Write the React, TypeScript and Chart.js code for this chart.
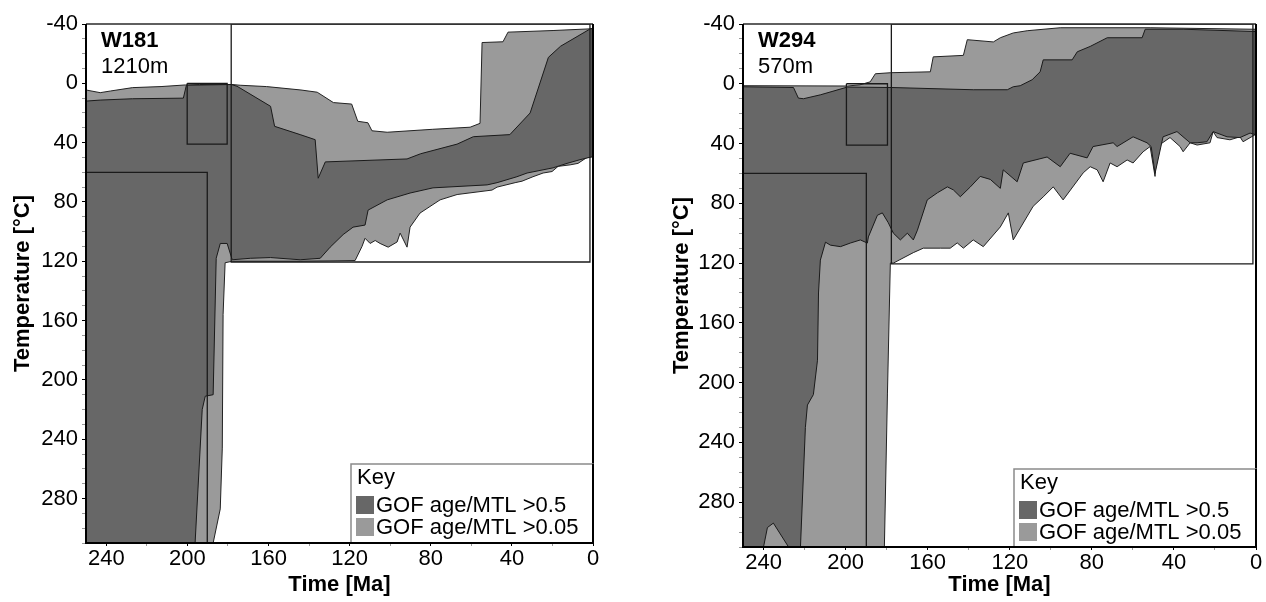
import React, { useEffect, useRef } from 'react';
import { Chart, registerables } from 'chart.js';

Chart.register(...registerables);

// ---------- W181 (left) : [time Ma, temperature °C] ----------
const w181LightUpper = [
  [250, 4.5], [243, 6.3], [238, 5.2], [227, 2.9], [213, 2.2], [201, 1.1], [194, 0.8], [178, 0.8],
  [174, 1.3], [161, 2.2], [144, 4.5], [136, 6], [128, 13], [119, 14], [116, 25.6], [111, 26.6],
  [109, 32], [101.5, 33], [79, 31], [60.6, 29.6], [55.7, 27], [54.7, -27.5], [44.4, -28],
  [41.9, -34.5], [19.7, -35.6], [0.3, -36.8],
];
const w181LightLower = [
  [0.3, 49.5], [3, 50], [7.4, 54], [11.3, 55], [17.2, 56], [20.2, 59.5], [24.6, 60.5], [29.6, 63],
  [35, 66], [38.4, 67], [47.3, 70], [49.8, 72], [67, 75], [75.4, 78.6], [85.3, 87.5], [90.2, 97],
  [91.7, 110.5], [95.1, 101], [96.6, 107], [101, 110.5], [105, 108], [107.4, 106], [109.9, 108],
  [112.4, 104.5], [113.9, 110], [117.3, 119.5], [144.4, 120], [177.9, 120], [181.4, 121],
  [182.4, 156], [182.8, 246], [183.8, 287], [187.3, 310], [250, 310],
];
const w181DarkUpper = [
  [250, 12], [243, 11.3], [227, 10.4], [202, 10], [200.5, 1.3], [178.4, 0.8], [175.5, 2],
  [159, 15.5], [157, 29], [144.4, 34.6], [137, 38], [135.5, 64], [132, 53], [91.7, 51],
  [85, 47.5], [67, 41], [59, 36], [41, 34.6], [31, 20], [22, -17.5], [16, -25], [1.5, -36.6],
  [0.3, -37],
];
const w181DarkLower = [
  [0.3, 49.5], [6.4, 51.5], [12.8, 54], [19.7, 57], [32.5, 60.5], [37.5, 63], [47.3, 67],
  [52.2, 68.5], [78.9, 70.5], [90.2, 74], [101.5, 78.6], [110.9, 85.5], [112.4, 95.6],
  [118.3, 97], [123.2, 102], [129.6, 110.5], [134.5, 118], [144.4, 119], [159, 117.5],
  [169, 118], [177.9, 119], [180.4, 108], [183.8, 108], [185.8, 118], [187.3, 210],
  [191.2, 211], [192.7, 220], [196.2, 310], [250, 310],
];
const w181Boxes = [
  [250, 190.2, 60, 310],
  [200.1, 180.4, 0, 41],
  [178.4, 1.5, -40, 120.5],
];

// ---------- W294 (right) ----------
const w294LightUpper = [
  [250, 1.3], [199, 1.5], [193, 0.7], [188, -1.3], [185.5, -6.7], [178, -7.4], [158.7, -8],
  [157.3, -18], [142.6, -19], [140.7, -29.5], [128, -28], [124.6, -30.8], [118.3, -34],
  [111.5, -35.5], [95.4, -37.5], [51.6, -37.5], [1.5, -36.5], [0.3, -36.5],
];
const w294LightLower = [
  [0.3, 34], [6.3, 38.8], [7.8, 35.5], [12.7, 37.5], [19, 36], [20.9, 32], [22.4, 39.5],
  [28.7, 41], [32.1, 39.5], [35.5, 45.5], [37, 42], [41.9, 36], [48.2, 42], [49.2, 62],
  [51.6, 42], [55, 45.5], [59.9, 53], [62.8, 51], [67.7, 55.5], [71.1, 53], [74.5, 65.6],
  [77.4, 57.6], [80.8, 55.5], [84.2, 59.6], [94, 77.7], [98.8, 69], [103.7, 75.7],
  [108.6, 82], [118.3, 104.5], [120.7, 86.4], [124.6, 95.8], [132.9, 109], [137.8, 104.5],
  [142.6, 110], [145.6, 106.5], [149, 110], [153.8, 110], [162.1, 110], [167, 113],
  [176.7, 120], [178.2, 120], [179.6, 207], [181.1, 310], [250, 310],
];
const w294DarkUpper = [
  [250, 2], [225.4, 2.5], [223, 9.6], [220.5, 10], [212.3, 7.4], [199.1, 2.2], [177.7, 2.5],
  [137.8, 4], [121.2, 4], [118.3, 2], [114.9, 1.3], [109.1, -2.7], [105.2, -8], [103.7, -16],
  [89.6, -16], [87.1, -21.4], [80.8, -25], [72.5, -30.8], [55.5, -30.8], [54, -36.5],
  [35.5, -36.5], [1.5, -35], [0.3, -35],
];
const w294DarkLower = [
  [0.3, 34], [2.9, 33], [7.8, 36], [14.1, 35.5], [20.9, 32], [23.9, 38.8], [28.7, 39.5],
  [32.1, 39.5], [38.5, 32], [45.3, 35.5], [49.2, 60], [51.1, 42], [53.1, 39.5], [59.9, 35.5],
  [67.7, 42], [69.6, 39.5], [79.4, 42], [82.3, 49.6], [90.6, 46.5], [95.4, 55.5], [101.8, 49],
  [113.4, 53], [116.4, 65.6], [123.2, 57.6], [124.6, 70], [129.5, 64], [134.4, 62],
  [139.2, 69], [144.1, 75.6], [147.5, 71], [150.4, 69], [155.3, 73], [160.2, 77.7], [165, 98],
  [167, 104.5], [169.9, 100], [173.3, 104.5], [176.7, 100], [179.2, 93], [182.1, 86.4],
  [184.5, 88], [188.9, 102.5], [189.4, 106.6], [192.8, 104.5], [197.7, 106.6], [202.5, 109],
  [207.4, 108], [209.8, 106], [212.3, 118], [213.2, 140], [213.7, 185], [215.7, 208],
  [218.6, 215], [219.6, 230], [222, 310], [227.8, 310], [235.2, 294], [238.1, 297],
  [240, 310], [250, 310],
];
const w294Boxes = [
  [250, 189.9, 60, 310],
  [199.6, 179.6, 0, 41],
  [177.7, 1.5, -40, 120.5],
];

// ---------- shared ----------
const xTickLabels = [0, 40, 80, 120, 160, 200, 240];
const yTickLabels = [-40, 0, 40, 80, 120, 160, 200, 240, 280];
const keyTitle = 'Key';
const keyLabels = ['GOF age/MTL >0.5', 'GOF age/MTL >0.05'];

const DARK = '#676767';
const LIGHT = '#9a9a9a';
const FONT = '"Liberation Sans", Arial, Helvetica, sans-serif';

type Pair = number[];

const polygon = (upper: Pair[], lower: Pair[]) =>
  [...upper, ...lower, upper[0]].map(([x, y]) => ({ x, y }));

const rect = ([t1, t2, a, b]: number[]) =>
  [[t1, a], [t2, a], [t2, b], [t1, b], [t1, a]].map(([x, y]) => ({ x, y }));

interface Spec {
  name: string;
  depth: string;
  lightUpper: Pair[];
  lightLower: Pair[];
  darkUpper: Pair[];
  darkLower: Pair[];
  boxes: number[][];
  left: number;
  yWidth: number;
  yTitlePad: number;
  padRight: number;
  xHeight: number;
  keyTop: number;
}

const specs: Spec[] = [
  {
    name: 'W181', depth: '1210m',
    lightUpper: w181LightUpper, lightLower: w181LightLower,
    darkUpper: w181DarkUpper, darkLower: w181DarkLower, boxes: w181Boxes,
    left: 0, yWidth: 86, yTitlePad: 10, padRight: 40, xHeight: 59, keyTop: 79,
  },
  {
    name: 'W294', depth: '570m',
    lightUpper: w294LightUpper, lightLower: w294LightLower,
    darkUpper: w294DarkUpper, darkLower: w294DarkLower, boxes: w294Boxes,
    left: 633, yWidth: 110, yTitlePad: 36, padRight: 10, xHeight: 55, keyTop: 78,
  },
];

function Panel({ spec }: { spec: Spec }) {
  const ref = useRef<HTMLCanvasElement | null>(null);

  useEffect(() => {
    if (!ref.current) return;

    const framePlugin = {
      id: 'frame',
      afterDatasetsDraw(chart: any) {
        const { ctx, chartArea: a } = chart;
        ctx.save();
        ctx.strokeStyle = '#2a2a2a';
        ctx.lineWidth = 1.5;
        ctx.beginPath();
        ctx.moveTo(a.left, a.top);
        ctx.lineTo(a.right, a.top);
        ctx.stroke();
        ctx.strokeStyle = '#000';
        ctx.lineWidth = 2;
        ctx.beginPath();
        ctx.moveTo(a.left, a.top);
        ctx.lineTo(a.left, a.bottom);
        ctx.lineTo(a.right, a.bottom);
        ctx.lineTo(a.right, a.top);
        ctx.stroke();
        ctx.restore();
      },
    };

    const labelPlugin = {
      id: 'labels',
      afterDraw(chart: any) {
        const { ctx, chartArea: a } = chart;
        ctx.save();
        ctx.fillStyle = '#000';
        ctx.textAlign = 'left';
        ctx.textBaseline = 'alphabetic';
        ctx.font = `bold 22px ${FONT}`;
        ctx.fillText(spec.name, a.left + 15, 47);
        ctx.font = `22px ${FONT}`;
        ctx.fillText(spec.depth, a.left + 15, 73);

        // key box
        const w = 242;
        const bx = a.right - w;
        const by = a.bottom - spec.keyTop;
        ctx.fillStyle = '#fff';
        ctx.fillRect(bx, by, w, spec.keyTop);
        ctx.strokeStyle = '#8a8a8a';
        ctx.lineWidth = 1.5;
        ctx.strokeRect(bx, by, w, spec.keyTop);
        ctx.fillStyle = '#000';
        ctx.font = `22px ${FONT}`;
        ctx.fillText(keyTitle, bx + 6, by + 20);
        const colors = [DARK, LIGHT];
        keyLabels.forEach((lab, i) => {
          ctx.fillStyle = colors[i];
          ctx.fillRect(bx + 5, by + 32 + i * 22, 18, 18);
          ctx.fillStyle = '#000';
          ctx.fillText(lab, bx + 25, by + 48 + i * 22);
        });
        ctx.strokeStyle = '#000';
        ctx.lineWidth = 2;
        ctx.beginPath();
        ctx.moveTo(a.right, by);
        ctx.lineTo(a.right, a.bottom);
        ctx.lineTo(bx - 1, a.bottom);
        ctx.stroke();
        ctx.restore();
      },
    };

    const datasets: any[] = [
      {
        label: 'light',
        data: polygon(spec.lightUpper, spec.lightLower),
        fill: 'shape',
        backgroundColor: LIGHT,
        borderColor: '#222',
        borderWidth: 1,
        pointRadius: 0,
        tension: 0,
        order: 3,
      },
      {
        label: 'dark',
        data: polygon(spec.darkUpper, spec.darkLower),
        fill: 'shape',
        backgroundColor: DARK,
        borderColor: '#1a1a1a',
        borderWidth: 1,
        pointRadius: 0,
        tension: 0,
        order: 2,
      },
      ...spec.boxes.map((b, i) => ({
        label: 'box' + i,
        data: rect(b),
        fill: false,
        borderColor: '#1a1a1a',
        borderWidth: 1.3,
        pointRadius: 0,
        tension: 0,
        order: 1,
      })),
    ];

    const tickColor = (c: any) =>
      c.tick && Math.abs(c.tick.value % 40) < 1e-6 ? '#000' : '#9a9a9a';

    const chart = new Chart(ref.current, {
      type: 'line',
      data: { datasets },
      options: {
        responsive: false,
        animation: false,
        events: [],
        layout: { padding: { left: 0, top: 24, right: spec.padRight, bottom: 0 } },
        plugins: { legend: { display: false }, tooltip: { enabled: false } },
        scales: {
          x: {
            type: 'linear',
            reverse: true,
            min: 0,
            max: 250,
            afterFit: (s: any) => { s.height = spec.xHeight; },
            border: { display: false },
            grid: { drawOnChartArea: false, drawTicks: true, tickLength: 3, tickColor },
            ticks: {
              stepSize: 20,
              includeBounds: false,
              autoSkip: false,
              maxRotation: 0,
              padding: 0,
              color: '#000',
              font: { family: FONT, size: 22 },
              callback: (v: any) => (xTickLabels.includes(Number(v)) ? String(v) : ''),
            },
            title: {
              display: true,
              text: 'Time [Ma]',
              color: '#000',
              font: { family: FONT, size: 22, weight: 'bold' },
              padding: { top: 0, bottom: 4 },
            },
          },
          y: {
            type: 'linear',
            reverse: true,
            min: -40,
            max: 310,
            afterFit: (s: any) => { s.width = spec.yWidth; },
            border: { display: false },
            grid: { drawOnChartArea: false, drawTicks: true, tickLength: 4, tickColor },
            ticks: {
              stepSize: 10,
              includeBounds: false,
              autoSkip: false,
              padding: 4,
              color: '#000',
              font: { family: FONT, size: 22 },
              callback: (v: any) => (yTickLabels.includes(Number(v)) ? String(v) : ''),
            },
            title: {
              display: true,
              text: 'Temperature [°C]',
              color: '#000',
              font: { family: FONT, size: 22, weight: 'bold' },
              padding: { top: spec.yTitlePad, bottom: 0 },
            },
          },
        },
      } as any,
      plugins: [framePlugin, labelPlugin],
    });

    return () => chart.destroy();
  }, [spec]);

  return (
    <canvas
      ref={ref}
      width={633}
      height={602}
      style={{ position: 'absolute', left: spec.left, top: 0, width: 633, height: 602 }}
    />
  );
}

export default function App() {
  return (
    <div
      style={{
        position: 'fixed',
        left: 0,
        top: 0,
        width: 1266,
        height: 602,
        overflow: 'hidden',
        background: '#fff',
      }}
    >
      {specs.map((s) => (
        <Panel key={s.name} spec={s} />
      ))}
    </div>
  );
}
